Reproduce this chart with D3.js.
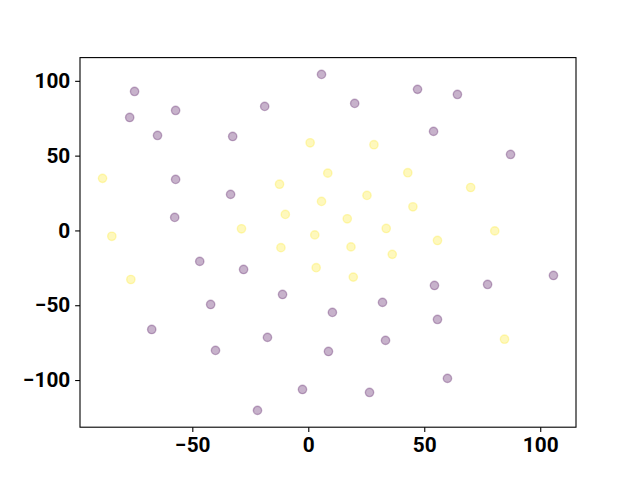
<!DOCTYPE html>
<html>
<head>
<meta charset="utf-8">
<script src="https://cdn.jsdelivr.net/npm/d3@7"></script>
<style>
  html, body { margin: 0; padding: 0; background: #fff; }
  svg { display: block; }
  .tick text { font-family: Roboto, "DejaVu Sans", sans-serif; font-weight: bold; }
</style>
</head>
<body>
<script>
// Class 0 (purple) points
const purpleX = [-74.9, -77.0, -65.0, -57.2, -32.6, -18.8, 5.7, 20.0, 47.1, 64.3, 54.0, 87.2,
  -57.2, -33.5, -57.6, -46.8, -27.9, -11.1, -42.1, -67.5, -40.0, -17.6, -2.5, -21.9,
  10.4, 8.7, 32.0, 33.3, 54.4, 55.7, 77.3, 105.7, 60.0, 26.4];
const purpleY = [92.9, 75.5, 63.5, 80.2, 62.8, 82.9, 104.3, 84.9, 94.3, 90.9, 66.2, 50.8,
  34.1, 24.1, 8.7, -20.7, -26.1, -42.8, -49.5, -66.2, -80.2, -71.5, -106.3, -120.3,
  -54.8, -80.9, -48.1, -73.5, -36.8, -59.5, -36.1, -30.1, -98.9, -108.3];
// Class 1 (yellow) points
const yellowX = [-88.7, -84.7, -76.5, -28.8, -12.4, -9.9, -11.8, 0.8, 2.8, 3.4, 5.7, 8.4,
  16.8, 18.4, 19.4, 25.3, 28.3, 33.6, 36.2, 42.9, 45.1, 55.7, 70.0, 80.4, 84.6];
const yellowY = [34.8, -3.9, -32.8, 1.1, 30.9, 10.7, -11.5, 58.6, -3.0, -24.9, 19.4, 38.3,
  7.8, -11.0, -31.2, 23.4, 57.3, 1.3, -16.0, 38.6, 15.8, -6.7, 28.7, -0.3, -72.7];
const xTicks = [-50, 0, 50, 100];
const yTicks = [-100, -50, 0, 50, 100];

const W = 640, H = 480;
const mLeft = 80, mRight = 576, mTop = 57.6, mBottom = 427.2;

const allX = purpleX.concat(yellowX), allY = purpleY.concat(yellowY);
function padded(vals) {
  const mn = d3.min(vals), mx = d3.max(vals), p = (mx - mn) * 0.05;
  return [mn - p, mx + p];
}
const x = d3.scaleLinear().domain(padded(allX)).range([mLeft, mRight]);
const y = d3.scaleLinear().domain(padded(allY)).range([mBottom, mTop]);

const svg = d3.select("body").append("svg").attr("width", W).attr("height", H);

const series = [
  { xs: purpleX, ys: purpleY, color: "#440154" },
  { xs: yellowX, ys: yellowY, color: "#fde725" }
];
const pts = [];
series.forEach(s => s.xs.forEach((v, i) => pts.push({ x: v, y: s.ys[i], c: s.color })));

svg.append("g").selectAll("circle").data(pts).join("circle")
  .attr("cx", d => x(d.x)).attr("cy", d => y(d.y))
  .attr("r", 4.17)
  .attr("fill", d => d.c).attr("fill-opacity", 0.3)
  .attr("stroke", d => d.c).attr("stroke-opacity", 0.3)
  .attr("stroke-width", 1.39);

const fmt = d => (d < 0 ? "\u2212" + Math.abs(d) : String(d));

const xAxis = svg.append("g").attr("transform", `translate(0,${mBottom})`)
  .call(d3.axisBottom(x).tickValues(xTicks).tickFormat(fmt).tickSize(4.86).tickPadding(4.86));
const yAxis = svg.append("g").attr("transform", `translate(${mLeft},0)`)
  .call(d3.axisLeft(y).tickValues(yTicks).tickFormat(fmt).tickSize(4.86).tickPadding(4.86));
[xAxis, yAxis].forEach(g => {
  g.select(".domain").remove();
  g.selectAll(".tick line").attr("stroke", "#000").attr("stroke-width", 1.1);
  g.selectAll(".tick text").attr("fill", "#000").style("font-size", "20.8px");
});

svg.append("rect").attr("x", mLeft).attr("y", mTop)
  .attr("width", mRight - mLeft).attr("height", mBottom - mTop)
  .attr("fill", "none").attr("stroke", "#000").attr("stroke-width", 1.1);
</script>
</body>
</html>
